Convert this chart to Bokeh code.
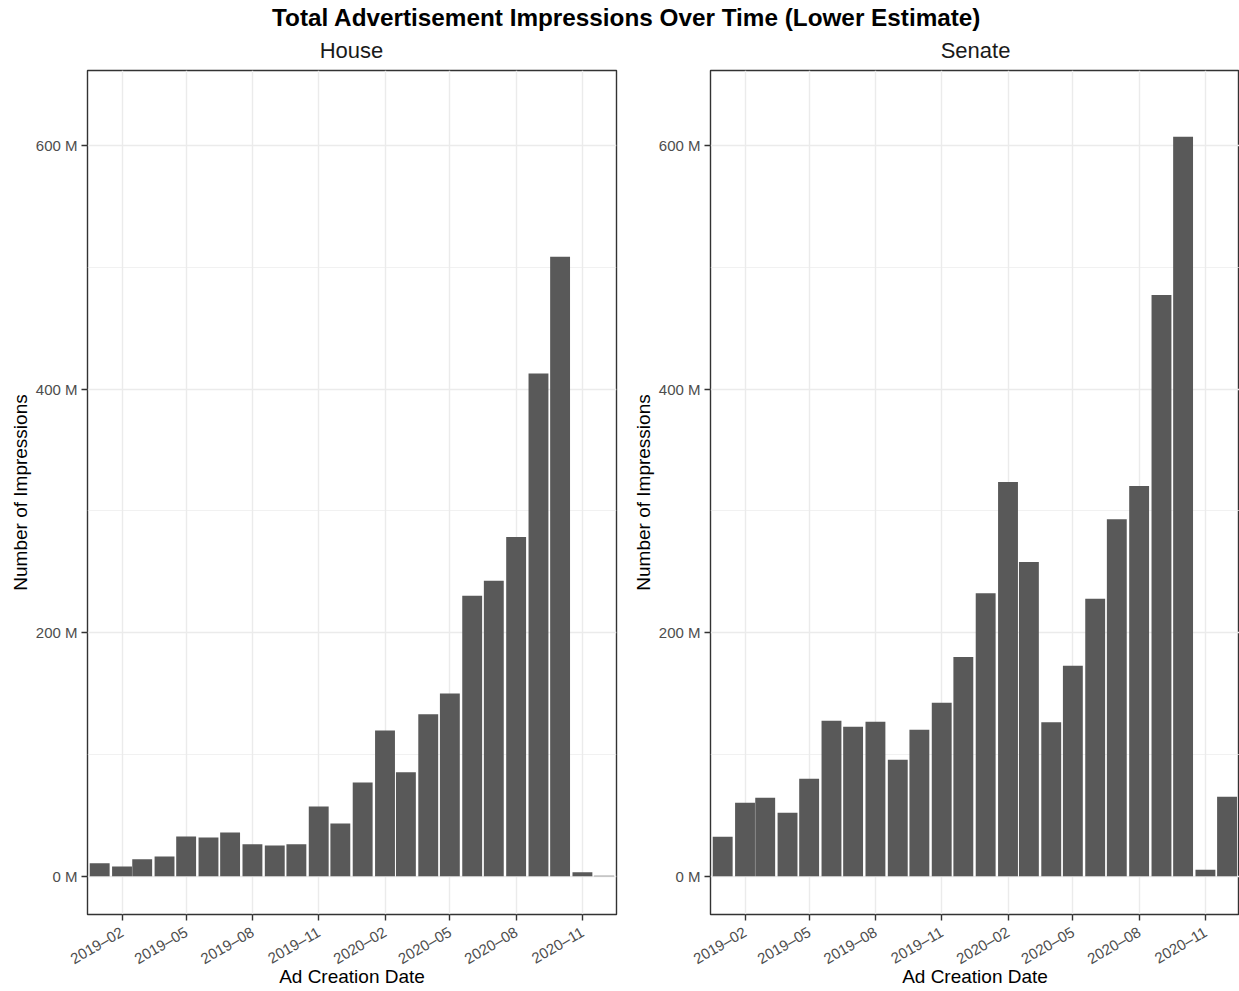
import math
import pandas as pd
from bokeh.plotting import figure
from bokeh.models import Range1d, FixedTicker, Label, ColumnDataSource
from bokeh.layouts import column, row
from bokeh.embed import file_html
from bokeh.resources import INLINE

# ---------------- data ----------------
months = ["2019-01", "2019-02", "2019-03", "2019-04", "2019-05", "2019-06",
          "2019-07", "2019-08", "2019-09", "2019-10", "2019-11", "2019-12",
          "2020-01", "2020-02", "2020-03", "2020-04", "2020-05", "2020-06",
          "2020-07", "2020-08", "2020-09", "2020-10", "2020-11", "2020-12"]

# impressions in millions
house_impressions_m = [10.7, 8.2, 14.0, 16.4, 32.8, 32.0, 36.1, 26.3, 25.4, 26.3, 57.4, 43.5,
                       77.1, 119.8, 85.4, 133.0, 150.2, 230.4, 242.6, 278.6, 412.8, 508.6, 3.3, 0.6]
senate_impressions_m = [32.6, 60.5, 64.6, 52.3, 80.2, 127.8, 122.8, 126.9, 95.7, 120.4, 142.5, 180.1,
                        232.4, 323.8, 258.1, 126.6, 172.9, 227.9, 293.2, 320.5, 477.3, 607.1, 5.4, 65.3]

x_tick_months = ["2019-02", "2019-05", "2019-08", "2019-11",
                 "2020-02", "2020-05", "2020-08", "2020-11"]
x_tick_labels = ["2019–02", "2019–05", "2019–08", "2019–11",
                 "2020–02", "2020–05", "2020–08", "2020–11"]
y_tick_values_m = [0, 200, 400, 600]
y_tick_labels = ["0 M", "200 M", "400 M", "600 M"]
y_minor_values_m = [100, 300, 500]

title_text = "Total Advertisement Impressions Over Time (Lower Estimate)"
panel_names = ["House", "Senate"]
x_axis_title = "Ad Creation Date"
y_axis_title = "Number of Impressions"

# ---------------- helpers ----------------
FONT = "Liberation Sans"


def ms(s):
    return int(pd.Timestamp(s).value // 10**6)


X_START = ms("2018-12-15 02:00")
X_END = ms("2020-12-18 07:00")
BAR_WIDTH = 27.6 * 86400000
tick_ms = [ms(m + "-01") for m in x_tick_months]
bar_x = [ms(m + "-01") for m in months]

TOTAL_W = 1239
P1_W = 626
HEADER_H = 68
MB_TOP = 2
FRAME_H = 844
MB_BOTTOM = 76
PANEL_H = MB_TOP + FRAME_H + MB_BOTTOM


def make_panel(values, width, mb_left, mb_right):
    p = figure(width=width, height=PANEL_H,
               x_range=Range1d(X_START, X_END), y_range=Range1d(-31.3, 661.5),
               x_axis_type="datetime", toolbar_location=None, output_backend="svg",
               min_border_left=mb_left, min_border_right=mb_right,
               min_border_top=MB_TOP, min_border_bottom=MB_BOTTOM)
    src = ColumnDataSource(dict(x=bar_x, top=values))
    p.vbar(x="x", top="top", bottom=0, width=BAR_WIDTH, source=src,
           fill_color="#595959", line_color=None)

    p.background_fill_color = "white"
    p.border_fill_color = "white"
    p.outline_line_color = "#333333"
    p.outline_line_width = 1.4

    xa = p.xaxis[0]
    xa.ticker = FixedTicker(ticks=tick_ms, minor_ticks=[])
    xa.major_label_overrides = dict(zip(tick_ms, x_tick_labels))
    xa.major_label_orientation = math.pi / 6
    xa.axis_label = x_axis_title
    xa.major_label_standoff = 10
    xa.axis_label_standoff = -11

    ya = p.yaxis[0]
    ya.ticker = FixedTicker(ticks=y_tick_values_m, minor_ticks=y_minor_values_m)
    ya.major_label_overrides = dict(zip(y_tick_values_m, y_tick_labels))
    ya.axis_label = y_axis_title
    ya.major_label_standoff = 4
    ya.axis_label_standoff = 2

    for ax in (xa, ya):
        ax.axis_line_color = None
        ax.minor_tick_line_color = None
        ax.major_tick_line_color = "#333333"
        ax.major_tick_line_width = 1.4
        ax.major_tick_in = 0
        ax.major_tick_out = 6
        ax.major_label_text_font = FONT
        ax.major_label_text_font_size = "15px"
        ax.major_label_text_color = "#4D4D4D"
        ax.axis_label_text_font = FONT
        ax.axis_label_text_font_size = "19px"
        ax.axis_label_text_font_style = "normal"
        ax.axis_label_text_color = "black"

    p.xgrid.grid_line_color = "#EBEBEB"
    p.xgrid.grid_line_width = 1.4
    p.ygrid.grid_line_color = "#EBEBEB"
    p.ygrid.grid_line_width = 1.4
    p.ygrid.minor_grid_line_color = "#EBEBEB"
    p.ygrid.minor_grid_line_width = 0.7
    return p


# header: overall title and the facet strip labels
header = figure(width=TOTAL_W, height=HEADER_H, x_range=Range1d(0, TOTAL_W),
                y_range=Range1d(0, HEADER_H), x_axis_type=None, y_axis_type=None,
                toolbar_location=None, output_backend="svg", min_border=0,
                outline_line_color=None)
header.add_layout(Label(x=626.2, y=51, text=title_text, text_font=FONT,
                        text_font_size="24.3px", text_font_style="bold",
                        text_align="center", text_baseline="alphabetic",
                        text_color="black"))
for name, cx in zip(panel_names, [351.0, 975.0]):
    header.add_layout(Label(x=cx, y=18.3, text=name, text_font=FONT,
                            text_font_size="22px", text_align="center",
                            text_baseline="alphabetic", text_color="#1A1A1A"))

p1 = make_panel(house_impressions_m, P1_W, 87, 10)
p2 = make_panel(senate_impressions_m, TOTAL_W - P1_W, 84, 0)

layout = column(header, row(p1, p2, spacing=0), spacing=0)

with open("out.html", "w") as f:
    f.write(file_html(layout, INLINE, title="Total Advertisement Impressions"))
